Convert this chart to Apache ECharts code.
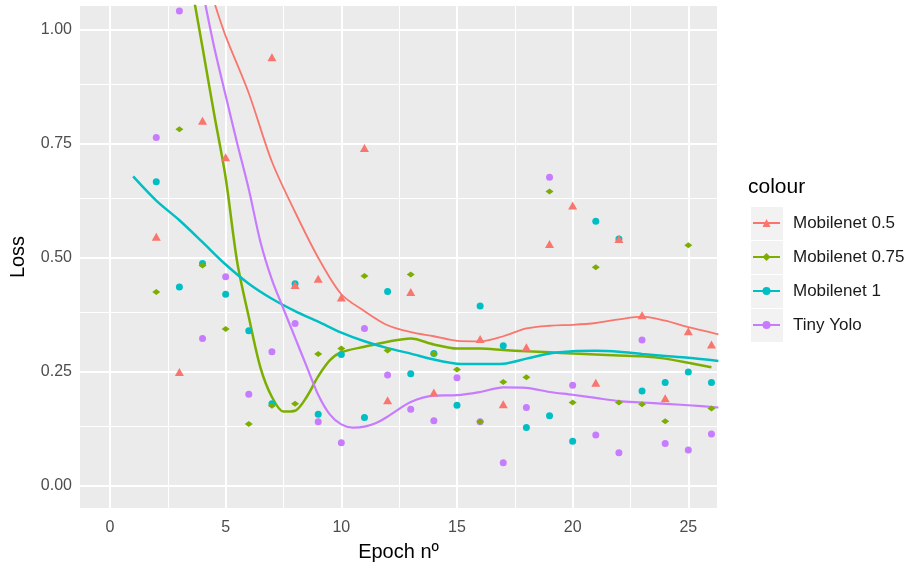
<!DOCTYPE html>
<html>
<head>
<meta charset="utf-8">
<script src="https://cdn.jsdelivr.net/npm/echarts@6/dist/echarts.min.js"></script>
<style>
  html, body { margin: 0; padding: 0; background: #fff; }
  #chart { width: 916px; height: 569px; }
</style>
</head>
<body>
<div id="chart"></div>
<script>
// scatter points, one per epoch
const epochs = [2, 3, 4, 5, 6, 7, 8, 9, 10, 11, 12, 13, 14, 15, 16, 17, 18, 19, 20, 21, 22, 23, 24, 25, 26]
const mob05 = [0.546, 0.25, 0.80, 0.72, null, 0.939, 0.44, 0.454, 0.413, 0.74, 0.188, 0.425, 0.205, null, 0.322, 0.179, 0.304, 0.53, 0.614, 0.226, 0.541, 0.374, 0.192, 0.339, 0.31]
const mob075 = [0.425, 0.781, 0.483, 0.344, 0.136, 0.176, 0.18, 0.289, 0.301, 0.46, 0.297, 0.463, 0.289, 0.255, 0.141, 0.228, 0.238, 0.645, 0.183, 0.479, 0.183, 0.179, 0.142, 0.527, 0.17]
const mob1 = [0.666, 0.436, 0.487, 0.42, 0.34, 0.18, 0.443, 0.157, 0.288, 0.15, 0.426, 0.246, 0.29, 0.177, 0.394, 0.307, 0.128, 0.154, 0.098, 0.58, 0.541, 0.208, 0.227, 0.25, 0.227]
const tinyYolo = [0.763, 1.04, 0.323, 0.458, 0.201, 0.294, 0.356, 0.141, 0.095, 0.345, 0.243, 0.168, 0.143, 0.237, 0.141, 0.051, 0.172, 0.676, 0.221, 0.112, 0.073, 0.32, 0.093, 0.079, 0.114]

// smoothed curves
const mob05SmoothX = [4.5, 5, 6, 7, 8, 9, 10, 11, 12, 13, 14, 15, 16, 17, 18, 19, 20, 21, 22, 23, 24, 25, 26, 26.3]
const mob05SmoothY = [1.06, 0.985, 0.86, 0.71, 0.60, 0.50, 0.42, 0.383, 0.352, 0.337, 0.328, 0.318, 0.317, 0.328, 0.345, 0.351, 0.353, 0.357, 0.365, 0.371, 0.362, 0.348, 0.336, 0.332]
const mob075SmoothX = [3.65, 4, 4.5, 5, 5.5, 6, 6.5, 7, 7.5, 8, 8.5, 9, 9.5, 10, 11, 12, 13, 14, 15, 16, 17, 18, 19, 20, 21, 22, 23, 24, 25, 26]
const mob075SmoothY = [1.06, 0.96, 0.815, 0.675, 0.49, 0.37, 0.26, 0.195, 0.163, 0.165, 0.195, 0.24, 0.275, 0.293, 0.305, 0.316, 0.323, 0.31, 0.301, 0.301, 0.298, 0.295, 0.293, 0.29, 0.288, 0.286, 0.284, 0.279, 0.27, 0.26]
const mob1SmoothX = [1, 2, 3, 4, 5, 6, 7, 8, 9, 10, 11, 12, 13, 14, 15, 16, 17, 18, 19, 20, 21, 22, 23, 24, 25, 26.3]
const mob1SmoothY = [0.678, 0.625, 0.582, 0.534, 0.485, 0.443, 0.41, 0.383, 0.36, 0.336, 0.317, 0.302, 0.29, 0.277, 0.268, 0.267, 0.268, 0.279, 0.29, 0.295, 0.296, 0.294, 0.289, 0.285, 0.281, 0.274]
const yoloSmoothX = [4.1, 4.5, 5, 5.5, 6, 6.5, 7, 7.5, 8, 8.5, 9, 9.5, 10, 10.5, 11, 11.5, 12, 13, 14, 15, 16, 17, 18, 19, 20, 21, 22, 23, 24, 25, 26.3]
const yoloSmoothY = [1.06, 0.962, 0.855, 0.75, 0.65, 0.535, 0.452, 0.388, 0.325, 0.262, 0.2, 0.157, 0.135, 0.128, 0.13, 0.138, 0.152, 0.184, 0.198, 0.199, 0.206, 0.216, 0.215, 0.206, 0.2, 0.193, 0.186, 0.183, 0.18, 0.177, 0.172]

// axis ticks
const xMajor = [0, 5, 10, 15, 20, 25]
const xMinor = [2.5, 7.5, 12.5, 17.5, 22.5]
const yMajor = [0, 0.25, 0.5, 0.75, 1]
const yMinor = [0.125, 0.375, 0.625, 0.875]

const names = ['Mobilenet 0.5', 'Mobilenet 0.75', 'Mobilenet 1', 'Tiny Yolo']
const colors = ['#F8766D', '#7CAE00', '#00BFC4', '#C77CFF']

const zip = (xs, ys) => xs.map((x, i) => [x, ys[i]])
const pts = ys => epochs.map((e, i) => [e, ys[i]]).filter(p => p[1] !== null)

const chart = echarts.init(document.getElementById('chart'))

const gridLines = [].concat(
  yMajor.map(v => ({ yAxis: v, lineStyle: { width: 2 } })),
  yMinor.map(v => ({ yAxis: v, lineStyle: { width: 1 } })),
  xMajor.map(v => ({ xAxis: v, lineStyle: { width: 2 } })),
  xMinor.map(v => ({ xAxis: v, lineStyle: { width: 1 } }))
)

function smoothLine(i, xs, ys, symbol, width) {
  return {
    name: names[i],
    type: 'line',
    data: zip(xs, ys),
    smooth: 0.3,
    symbol: symbol,
    symbolSize: 8,
    showSymbol: false,
    color: colors[i],
    lineStyle: { color: colors[i], width: width },
    z: 3,
    silent: true
  }
}

function points(i, ys, symbol, size) {
  return {
    name: names[i],
    type: 'scatter',
    data: pts(ys),
    symbol: symbol,
    symbolSize: size,
    itemStyle: { color: colors[i], opacity: 1 },
    z: 4,
    silent: true
  }
}

chart.setOption({
  animation: false,
  textStyle: { fontFamily: 'Liberation Sans, Arial, sans-serif' },
  grid: {
    left: 80, right: 199, top: 6, bottom: 61,
    show: true, backgroundColor: '#EBEBEB', borderWidth: 0
  },
  xAxis: {
    type: 'value',
    min: -1.297,
    max: 26.24,
    name: 'Epoch nº',
    nameLocation: 'middle',
    nameGap: 34,
    nameTextStyle: { color: '#000', fontSize: 20 },
    axisLine: { show: false },
    axisTick: { show: true, customValues: xMajor, length: 4, lineStyle: { color: '#333', width: 1 } },
    axisLabel: { customValues: xMajor, color: '#4D4D4D', fontSize: 16, margin: 12 },
    splitLine: { show: false }
  },
  yAxis: {
    type: 'value',
    min: -0.048,
    max: 1.051,
    name: 'Loss',
    nameLocation: 'middle',
    nameGap: 52,
    nameTextStyle: { color: '#000', fontSize: 20 },
    axisLine: { show: false },
    axisTick: { show: true, customValues: yMajor, length: 4, lineStyle: { color: '#333', width: 1 } },
    axisLabel: { customValues: yMajor, color: '#4D4D4D', fontSize: 16, margin: 8, formatter: v => v.toFixed(2) },
    splitLine: { show: false }
  },
  legend: {
    data: names,
    orient: 'vertical',
    left: 747,
    top: 208,
    itemWidth: 27,
    itemHeight: 10,
    itemGap: 14,
    selectedMode: false,
    z: 5,
    textStyle: { fontSize: 17, color: '#1A1A1A', lineHeight: 20, padding: [0, 0, 0, 8] }
  },
  graphic: [
    { type: 'text', left: 748, top: 177, z: 0, style: { text: 'colour', fontSize: 21, fill: '#000', fontFamily: 'Liberation Sans, Arial, sans-serif' } }
  ].concat([207, 241, 275, 309].map(t => ({
    type: 'rect', left: 751, top: t, z: 0, silent: true,
    shape: { width: 32, height: 33 }, style: { fill: '#F2F2F2' }
  }))),
  series: [
    {
      type: 'line',
      data: [],
      silent: true,
      z: 1,
      markLine: {
        silent: true,
        z: 1,
        symbol: 'none',
        label: { show: false },
        animation: false,
        lineStyle: { color: '#FFFFFF', type: 'solid' },
        emphasis: { disabled: true },
        data: gridLines
      }
    },
    smoothLine(0, mob05SmoothX, mob05SmoothY, 'triangle', 1.8),
    smoothLine(1, mob075SmoothX, mob075SmoothY, 'diamond', 2.5),
    smoothLine(2, mob1SmoothX, mob1SmoothY, 'circle', 2.5),
    smoothLine(3, yoloSmoothX, yoloSmoothY, 'circle', 2.2),
    points(3, tinyYolo, 'circle', 7),
    points(2, mob1, 'circle', 7),
    points(1, mob075, 'diamond', [8, 6]),
    points(0, mob05, 'triangle', [9, 8])
  ]
})
</script>
</body>
</html>
